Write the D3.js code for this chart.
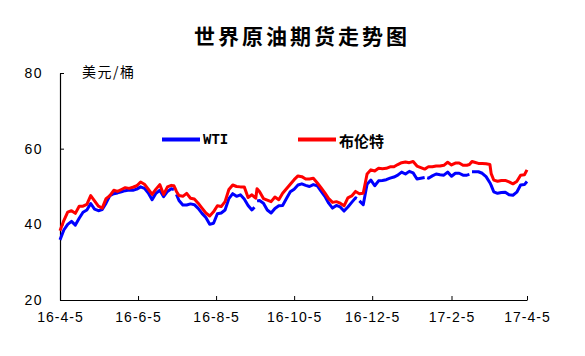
<!DOCTYPE html>
<html><head><meta charset="utf-8">
<script src="https://cdn.jsdelivr.net/npm/d3@7"></script>
<style>
html,body{margin:0;padding:0;background:#fff;}
svg{display:block;}
</style></head>
<body>
<svg id="chart" width="585" height="356"></svg>
<script>
const titleText = "世界原油期货走势图";
const unitText = "美元/桶";
const seriesNames = ["WTI", "布伦特"];
const seriesColors = ["#0000FF", "#FF0000"];
const yTicks = [20, 40, 60, 80];
const xTickDates = ["2016-04-05","2016-06-05","2016-08-05","2016-10-05","2016-12-05","2017-02-05","2017-04-05"];

const dates = [
"2016-04-05","2016-04-08","2016-04-11","2016-04-14","2016-04-17","2016-04-20","2016-04-23","2016-04-26","2016-04-29",
"2016-05-02","2016-05-05","2016-05-08","2016-05-11","2016-05-14","2016-05-17","2016-05-20","2016-05-23","2016-05-26","2016-05-29",
"2016-06-01","2016-06-04","2016-06-07","2016-06-10","2016-06-13","2016-06-16","2016-06-19","2016-06-22","2016-06-25","2016-06-28",
"2016-07-01","2016-07-03","2016-07-04","2016-07-05","2016-07-07","2016-07-10","2016-07-13","2016-07-16","2016-07-19","2016-07-22","2016-07-25","2016-07-28","2016-07-31",
"2016-08-03","2016-08-06","2016-08-09","2016-08-12","2016-08-15","2016-08-18","2016-08-21","2016-08-24","2016-08-27","2016-08-30",
"2016-09-02","2016-09-04","2016-09-05","2016-09-06","2016-09-08","2016-09-11","2016-09-14","2016-09-17","2016-09-20","2016-09-23","2016-09-26","2016-09-29",
"2016-10-02","2016-10-05","2016-10-08","2016-10-11","2016-10-14","2016-10-17","2016-10-20","2016-10-23","2016-10-26","2016-10-29",
"2016-11-01","2016-11-04","2016-11-07","2016-11-10","2016-11-13","2016-11-16","2016-11-19","2016-11-22","2016-11-23","2016-11-24","2016-11-25","2016-11-28",
"2016-12-01","2016-12-04","2016-12-07","2016-12-10","2016-12-13","2016-12-16","2016-12-19","2016-12-22","2016-12-25","2016-12-28","2016-12-31",
"2017-01-03","2017-01-06","2017-01-09","2017-01-12","2017-01-15","2017-01-16","2017-01-17","2017-01-18","2017-01-21","2017-01-24","2017-01-27","2017-01-30",
"2017-02-02","2017-02-05","2017-02-08","2017-02-11","2017-02-14","2017-02-17","2017-02-19","2017-02-20","2017-02-21","2017-02-23","2017-02-26",
"2017-03-01","2017-03-04","2017-03-07","2017-03-08","2017-03-10","2017-03-13","2017-03-16","2017-03-19","2017-03-22","2017-03-25","2017-03-28","2017-03-31",
"2017-04-03","2017-04-05"
];

const wti = [
35.9,38.5,40.0,40.8,39.8,41.6,43.2,43.8,45.5,
44.0,43.6,43.9,45.6,47.6,48.1,48.3,48.6,48.9,49.1,
49.0,49.3,49.9,49.5,48.3,46.5,48.2,49.0,47.3,48.7,
49.4,49.2,null,47.9,46.3,45.1,45.1,45.4,45.2,44.2,42.9,41.8,40.0,
40.3,42.8,43.0,43.8,46.8,48.1,47.4,47.8,46.7,45.0,
43.8,44.5,null,46.2,46.3,45.6,43.8,43.0,44.2,44.9,45.0,46.8,
48.6,49.3,50.4,50.7,50.3,50.0,50.5,50.2,48.8,47.4,
45.6,44.3,45.0,44.6,43.5,44.6,45.8,47.0,46.8,null,46.2,45.2,
50.6,51.7,50.2,51.5,51.6,51.8,52.2,52.5,53.0,53.8,53.3,
54.0,53.6,52.0,52.2,52.4,null,52.3,52.2,52.8,53.3,53.1,53.0,
53.8,52.7,53.5,53.5,53.0,53.0,53.2,null,53.9,53.9,53.9,
53.5,52.6,51.0,50.3,48.6,48.2,48.4,48.5,47.8,47.7,48.5,50.4,
50.5,51.3
];

const brent = [
38.3,41.0,43.2,43.6,42.9,44.8,44.8,45.3,47.6,
46.2,44.8,44.3,46.8,47.6,49.0,48.7,49.2,49.7,49.5,
49.8,50.2,51.2,50.6,49.3,47.9,49.3,50.5,47.9,49.9,
50.3,50.2,49.5,48.7,47.6,47.4,48.2,46.9,46.7,45.6,44.3,43.0,42.2,
43.3,44.9,44.7,46.0,49.2,50.4,50.0,49.9,49.9,47.1,
47.8,47.2,46.9,49.4,48.6,46.8,46.4,46.0,47.2,46.5,48.2,49.4,
50.6,51.8,52.8,52.6,52.0,52.0,52.2,51.0,49.7,48.3,
46.8,45.8,46.0,45.6,44.9,47.0,47.5,48.7,48.5,48.3,48.1,48.2,
53.3,54.4,54.1,54.8,54.7,54.8,55.2,55.2,55.8,56.3,56.5,
56.3,56.6,55.4,55.0,54.6,54.8,55.0,55.2,55.2,55.4,55.4,55.6,
56.4,55.7,56.2,56.2,55.6,55.6,55.8,56.2,56.6,56.4,56.1,
56.1,56.0,55.8,53.4,51.7,51.4,51.6,51.6,51.2,50.7,51.3,53.0,
53.1,54.4
];

const parse = d3.timeParse("%Y-%m-%d");
const svg = d3.select("#chart");
const pLeft = 60, pRight = 527, pTop = 73, pBottom = 300;

const x = d3.scaleTime().domain([parse(dates[0]), parse(dates[dates.length-1])]).range([pLeft, pRight]);
const y = d3.scaleLinear().domain([20, 80]).range([pBottom, pTop]);

// title
svg.append("text").attr("x", 302).attr("y", 35)
  .attr("text-anchor", "middle").attr("dominant-baseline", "central")
  .style("font-family", "'Noto Sans CJK SC'").style("font-weight", "bold")
  .style("font-size", "21px").style("letter-spacing", "3px")
  .text(titleText);

// unit
svg.append("text").attr("x", 82).attr("y", 71)
  .attr("dominant-baseline", "central")
  .style("font-family", "'Noto Sans CJK SC'").style("font-size", "14px").style("letter-spacing", "1.5px")
  .text(unitText);

// axes
const xAxis = d3.axisBottom(x).tickValues(xTickDates.map(parse))
  .tickFormat(d3.timeFormat("%y-%-m-%-d")).tickSizeInner(-4).tickSizeOuter(0).tickPadding(12);
const gx = svg.append("g").attr("transform", `translate(0,${pBottom})`).call(xAxis);
gx.select(".domain").attr("stroke", "#000").attr("stroke-width", 1.2);
gx.selectAll(".tick line").attr("stroke", "#000");
gx.selectAll("text").style("font-family", "'Liberation Sans', Arial").style("font-size", "14px")
  .style("letter-spacing", "1px").attr("fill", "#000");

const yAxis = d3.axisLeft(y).tickValues(yTicks).tickSizeInner(-4).tickSizeOuter(0).tickPadding(17);
const gy = svg.append("g").attr("transform", `translate(${pLeft},0)`).call(yAxis);
gy.select(".domain").attr("stroke", "#000").attr("stroke-width", 1.2);
gy.selectAll(".tick line").attr("stroke", "#000");
gy.selectAll("text").style("font-family", "'Liberation Sans', Arial").style("font-size", "14px")
  .style("letter-spacing", "1.5px").attr("fill", "#000");

// lines
const series = [wti, brent];
series.forEach((vals, i) => {
  const data = dates.map((d, j) => ({d: parse(d), v: vals[j]}));
  const line = d3.line().defined(p => p.v != null).x(p => x(p.d)).y(p => y(p.v));
  svg.append("path").datum(data).attr("d", line)
    .attr("fill", "none").attr("stroke", seriesColors[i]).attr("stroke-width", 3)
    .attr("stroke-linejoin", "round");
});

// legend
const legendX = [162, 298];
seriesNames.forEach((name, i) => {
  svg.append("line").attr("x1", legendX[i]).attr("x2", legendX[i] + 38)
    .attr("y1", 139.5).attr("y2", 139.5)
    .attr("stroke", seriesColors[i]).attr("stroke-width", 4);
  const t = svg.append("text").attr("x", legendX[i] + 41).attr("y", 140)
    .attr("dominant-baseline", "central").style("font-weight", "bold").text(name);
  if (i === 0) t.style("font-family", "'Liberation Mono'").style("font-size", "14px");
  else t.style("font-family", "'Noto Sans CJK SC'").style("font-size", "15px");
});
</script>
</body></html>
